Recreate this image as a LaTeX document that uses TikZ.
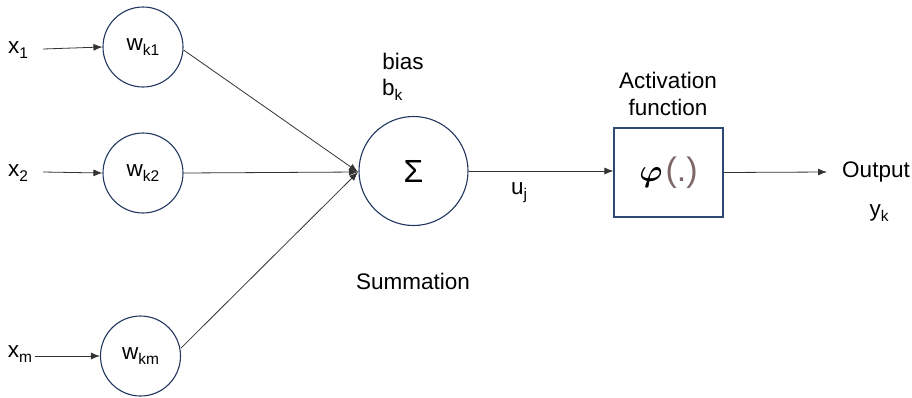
\documentclass[tikz,border=0pt]{standalone}
\usepackage{bm}
\usepackage{fontspec}
\setmainfont{Liberation Sans}
\usetikzlibrary{arrows.meta}
\newcommand{\lowsub}[1]{\raisebox{-5pt}{\fontsize{15.5}{15.5}\selectfont #1}}
\newcommand{\phisym}{\scalebox{1.25}{$\bm{\varphi}$}}
\begin{document}
\begin{tikzpicture}[x=1pt,y=-1pt,
  every node/.style={font=\fontsize{22.5}{27}\selectfont, inner sep=0pt},
  wcirc/.style={circle, draw=circ, line width=1.1pt, minimum size=80pt},
  conn/.style={draw=linec, line width=0.8pt},
  arr/.style={conn, -{Latex[length=9pt,width=7pt]}},
  lbl/.style={anchor=center}]
\definecolor{circ}{HTML}{22375F}
\definecolor{linec}{HTML}{333333}
\definecolor{boxc}{HTML}{2E4A72}
\definecolor{paren}{HTML}{7F6666}
\useasboundingbox (0,0) rectangle (912,397);
% input labels
\node[lbl] (x1) at (18,50) {x\lowsub{1}};
\node[lbl] (x2) at (18,173) {x\lowsub{2}};
\node[lbl] (xm) at (20,354) {x\lowsub{m}};
% weight circles
\node[wcirc] (w1) at (143,47) {w\lowsub{k1}};
\node[wcirc] (w2) at (143,173) {w\lowsub{k2}};
\node[wcirc] (wm) at (140.5,356) {w\lowsub{km}};
% summation
\node[circle, draw=circ, line width=1.1pt, minimum size=109pt] (sum) at (413.5,171) {\fontsize{32}{32}\selectfont Σ};
\coordinate (j) at (358,172);
% activation box
\node[draw=boxc, line width=1.1pt, minimum width=109pt, minimum height=89pt] (act) at (668.5,172.5) {\fontsize{34}{34}\selectfont\phisym\hspace{3pt}\textcolor{paren}{(.)}};
\coordinate (out) at (827,172);
% texts
\node[lbl] (bias) at (403,61) {bias};
\node[anchor=west] (bk) at (382,90) {b\lowsub{k}};
\node[lbl] (summ) at (413,281) {Summation};
\node[lbl] (uj) at (519,193) {u\lowsub{j}};
\node[lbl] (af1) at (668,80) {Activation};
\node[lbl] (af2) at (668,107) {function};
\node[lbl] (outp) at (876,172) {Output};
\node[lbl] (yk) at (879,213) {y\lowsub{k}};
% connectors
\draw[arr] (43,49) -- (w1.west);
\draw[arr] (43,172) -- (w2.west);
\draw[arr] (35,356) -- (wm.west);
\draw[arr] (w1.east) ++(0,3) -- (j);
\draw[arr] (w2.east) ++(0,0) -- (j);
\draw[arr] (wm.east) ++(0,-8) -- (j);
\draw[arr] (sum.east) -- (act.west |- sum.east);
\draw[arr] (act.east) -- (out);
\end{tikzpicture}
\end{document}
